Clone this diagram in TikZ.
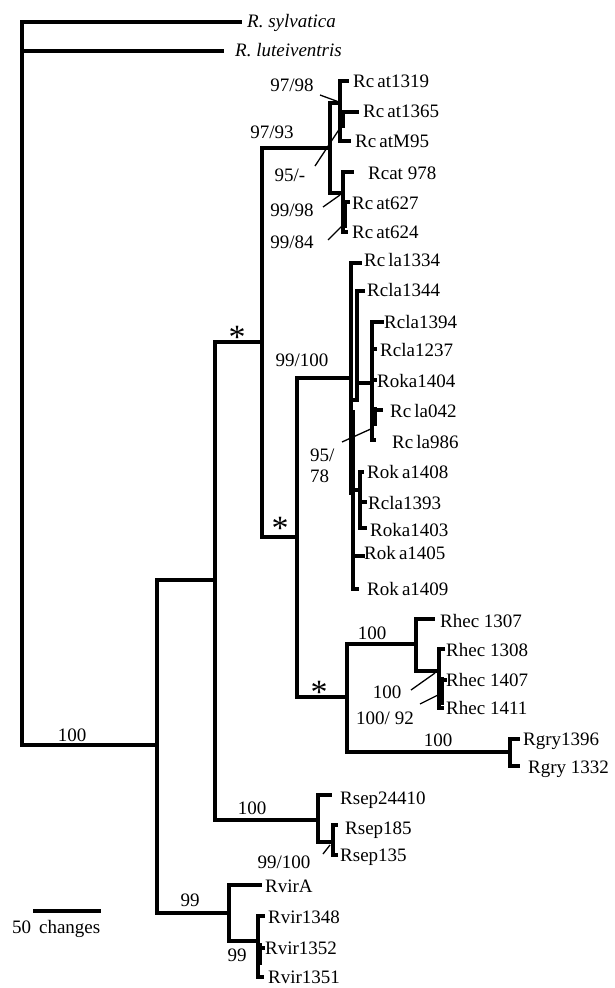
\documentclass[tikz,border=0pt]{standalone}
\usepackage{fontspec}
\setmainfont{Liberation Serif}

\begin{document}
\begin{tikzpicture}[
    x=1pt, y=-1pt,
    font=\fontsize{19}{19}\selectfont,
    branch/.style={line width=3.3pt, line cap=rect},
    heavy/.style={line width=5.5pt},
    leader/.style={line width=1.3pt},
    tip/.style={anchor=west, inner sep=0pt, text height=13pt, text depth=0pt},
    support/.style={inner sep=0pt, text height=13pt, text depth=0pt},
    star/.style={inner sep=0pt, anchor=base, font=\fontsize{34}{34}\selectfont}
]
\useasboundingbox (0,0) rectangle (615,988);

\coordinate (root) at (22,745);
\coordinate (sylv) at (240,22);
\coordinate (lute) at (222,51);
\coordinate (nX) at (157,745);
\coordinate (nA) at (215,580);
\coordinate (nVir) at (229,913);
\coordinate (virA) at (260,885);
\coordinate (nVir2) at (258,941);
\coordinate (vir1348) at (263,916);
\coordinate (vir1352) at (263,948);
\coordinate (vir1351) at (262,977);
\coordinate (nB) at (262,342);
\coordinate (nSep) at (318,820);
\coordinate (sep24410) at (330,795);
\coordinate (nSep2) at (333,842);
\coordinate (sep185) at (336,825);
\coordinate (sep135) at (336,855);
\coordinate (nCat) at (330,148);
\coordinate (nC) at (297,537);
\coordinate (nH) at (340,103);
\coordinate (cat1319) at (347,81);
\coordinate (nH2) at (342,112);
\coordinate (cat1365) at (357,112);
\coordinate (catM95) at (349,141);
\coordinate (nI) at (343,193);
\coordinate (cat978) at (352,172);
\coordinate (cat627) at (348,202);
\coordinate (cat624) at (346,232);
\coordinate (nE) at (351,378);
\coordinate (nD) at (347,697);
\coordinate (cla1334) at (360,263);
\coordinate (nF) at (357,400);
\coordinate (cla1344) at (363,291);
\coordinate (nG) at (372,383);
\coordinate (cla1394) at (382,322);
\coordinate (cla1237) at (375,349);
\coordinate (oka1404) at (375,380);
\coordinate (cla042) at (381,410);
\coordinate (cla986) at (374,440);
\coordinate (nK) at (353,493);
\coordinate (nJ) at (360,490);
\coordinate (oka1408) at (362,472);
\coordinate (cla1393) at (365,502);
\coordinate (oka1403) at (365,528);
\coordinate (oka1405) at (363,556);
\coordinate (oka1409) at (357,589);
\coordinate (nHec) at (416,644);
\coordinate (hec1307) at (433,619);
\coordinate (nHec2) at (439,671);
\coordinate (hec1308) at (443,649);
\coordinate (hec1407) at (445,680);
\coordinate (hec1411) at (442,708);
\coordinate (nGry) at (510,752);
\coordinate (gry1396) at (518,739);
\coordinate (gry1332) at (518,766);

\coordinate (hv1a) at (342,110);
\coordinate (hv1b) at (342,128);
\coordinate (hv2a) at (344,200);
\coordinate (hv2b) at (344,228);
\coordinate (hv3a) at (374,407);
\coordinate (hv3b) at (374,426);
\coordinate (hv4a) at (352,410);
\coordinate (hv4b) at (352,493);
\coordinate (hv5a) at (441,677);
\coordinate (hv5b) at (441,705);
\coordinate (hv6a) at (259,943);
\coordinate (hv6b) at (259,965);

\draw[branch] (root) |- (sylv);
\draw[branch] (root) |- (lute);
\draw[branch] (root) -- (nX);
\draw[branch] (nX) |- (nA);
\draw[branch] (nX) |- (nVir);
\draw[branch] (nVir) |- (virA);
\draw[branch] (nVir) |- (nVir2);
\draw[branch] (nVir2) |- (vir1348);
\draw[branch] (nVir2) |- (vir1352);
\draw[branch] (nVir2) |- (vir1351);
\draw[branch] (nA) |- (nB);
\draw[branch] (nA) |- (nSep);
\draw[branch] (nSep) |- (sep24410);
\draw[branch] (nSep) |- (nSep2);
\draw[branch] (nSep2) |- (sep185);
\draw[branch] (nSep2) |- (sep135);
\draw[branch] (nB) |- (nCat);
\draw[branch] (nB) |- (nC);
\draw[branch] (nCat) |- (nH);
\draw[branch] (nCat) |- (nI);
\draw[branch] (nH) |- (cat1319);
\draw[branch] (nH) |- (catM95);
\draw[branch] (nH2) -- (cat1365);
\draw[branch] (nI) |- (cat978);
\draw[branch] (nI) |- (cat627);
\draw[branch] (nI) |- (cat624);
\draw[branch] (nC) |- (nE);
\draw[branch] (nC) |- (nD);
\draw[branch] (nE) |- (cla1334);
\draw[branch] (nE) |- (nF);
\draw[branch] (nE) |- (nK);
\draw[branch] (nF) |- (cla1344);
\draw[branch] (nF) |- (nG);
\draw[branch] (nG) |- (cla1394);
\draw[branch] (nG) |- (cla1237);
\draw[branch] (nG) |- (oka1404);
\draw[branch] (nG) |- (cla042);
\draw[branch] (nG) |- (cla986);
\draw[branch] (nK) |- (nJ);
\draw[branch] (nK) |- (oka1405);
\draw[branch] (nK) |- (oka1409);
\draw[branch] (nJ) |- (oka1408);
\draw[branch] (nJ) |- (cla1393);
\draw[branch] (nJ) |- (oka1403);
\draw[branch] (nD) |- (nHec);
\draw[branch] (nD) |- (nGry);
\draw[branch] (nHec) |- (hec1307);
\draw[branch] (nHec) |- (nHec2);
\draw[branch] (nHec2) |- (hec1308);
\draw[branch] (nHec2) |- (hec1407);
\draw[branch] (nHec2) |- (hec1411);
\draw[branch] (nGry) |- (gry1396);
\draw[branch] (nGry) |- (gry1332);

\draw[heavy] (hv1a) -- (hv1b);
\draw[heavy] (hv2a) -- (hv2b);
\draw[heavy] (hv3a) -- (hv3b);
\draw[heavy] (hv4a) -- (hv4b);
\draw[heavy] (hv5a) -- (hv5b);
\draw[heavy] (hv6a) -- (hv6b);

\node[tip] (tsylv) at (247,21) {\itshape R. sylvatica};
\node[tip] (tlute) at (235,50) {\itshape R. luteiventris};
\node[tip] (t1319) at (353,81) {Rc\,at1319};
\node[tip] (t1365) at (363,111) {Rc\,at1365};
\node[tip] (tM95) at (355,141) {Rc\,atM95};
\node[tip] (t978) at (368,173) {Rcat 978};
\node[tip] (t627) at (352,203) {Rc\,at627};
\node[tip] (t624) at (352,232) {Rc\,at624};
\node[tip] (t1334) at (364,260) {Rc\,la1334};
\node[tip] (t1344) at (367,290) {Rcla1344};
\node[tip] (t1394) at (384,322) {Rcla1394};
\node[tip] (t1237) at (380,350) {Rcla1237};
\node[tip] (t1404) at (377,381) {Roka1404};
\node[tip] (t042) at (390,411) {Rc\,la042};
\node[tip] (t986) at (392,442) {Rc\,la986};
\node[tip] (t1408) at (367,472) {Rok\,a1408};
\node[tip] (t1393) at (368,503) {Rcla1393};
\node[tip] (t1403) at (370,530) {Roka1403};
\node[tip] (t1405) at (364,553) {Rok\,a1405};
\node[tip] (t1409) at (367,589) {Rok\,a1409};
\node[tip] (t1307) at (440,621) {Rhec 1307};
\node[tip] (t1308) at (446,650) {Rhec 1308};
\node[tip] (t1407) at (446,680) {Rhec 1407};
\node[tip] (t1411) at (446,708) {Rhec 1411};
\node[tip] (t1396) at (523,739) {Rgry1396};
\node[tip] (t1332) at (528,767) {Rgry 1332};
\node[tip] (t24410) at (340,798) {Rsep24410};
\node[tip] (t185) at (345,828) {Rsep185};
\node[tip] (t135) at (340,855) {Rsep135};
\node[tip] (tvirA) at (265,886) {RvirA};
\node[tip] (t1348) at (268,917) {Rvir1348};
\node[tip] (t1352) at (265,948) {Rvir1352};
\node[tip] (t1351) at (268,977) {Rvir1351};

\node[support] (sroot) at (72,735) {100};
\node[support] (svir) at (190,900) {99};
\node[support] (svir2) at (237,955) {99};
\node[support] (ssep) at (252,808) {100};
\node[support] (ssep2) at (284,862) {99/100};
\node[support] (s9798) at (292,85) {97/98};
\node[support] (s9793) at (272,132) {97/93};
\node[support] (s95) at (290,175) {95/-};
\node[support] (s9998) at (292,210) {99/98};
\node[support] (s9984) at (292,242) {99/84};
\node[support] (scla) at (302,360) {99/100};
\node[inner sep=0pt, anchor=north west, align=left, font=\fontsize{19}{21}\selectfont] (s9578) at (310,449) {95/\\78};
\node[support] (shec) at (372,633) {100};
\node[support] (sgry) at (438,740) {100};
\node[support] (shec2) at (387,692) {100};
\node[support] (shec3) at (385,718) {100/ 92};

\node[star] (starB) at (237,348) {*};
\node[star] (starC) at (280,539) {*};
\node[star] (starD) at (319,703) {*};

\coordinate (ld1a) at (320,95);
\coordinate (ld1b) at (339,102);
\coordinate (ld2a) at (315,166);
\coordinate (ld2b) at (342,125);
\coordinate (ld3a) at (323,207);
\coordinate (ld3b) at (340,195);
\coordinate (ld4a) at (328,240);
\coordinate (ld4b) at (346,222);
\coordinate (ld5a) at (342,442);
\coordinate (ld5b) at (373,428);
\coordinate (ld6a) at (411,690);
\coordinate (ld6b) at (435,673);
\coordinate (ld7a) at (420,704);
\coordinate (ld7b) at (438,695);
\coordinate (ld8a) at (323,854);
\coordinate (ld8b) at (330,845);
\draw[leader] (ld1a) -- (ld1b);
\draw[leader] (ld2a) -- (ld2b);
\draw[leader] (ld3a) -- (ld3b);
\draw[leader] (ld4a) -- (ld4b);
\draw[leader] (ld5a) -- (ld5b);
\draw[leader] (ld6a) -- (ld6b);
\draw[leader] (ld7a) -- (ld7b);
\draw[leader] (ld8a) -- (ld8b);

\coordinate (bar1) at (33,911);
\coordinate (bar2) at (101,911);
\draw[branch, line cap=butt] (bar1) -- (bar2);
\node[tip] (barlabel) at (12,927) {50\,\ changes};
\end{tikzpicture}
\end{document}
